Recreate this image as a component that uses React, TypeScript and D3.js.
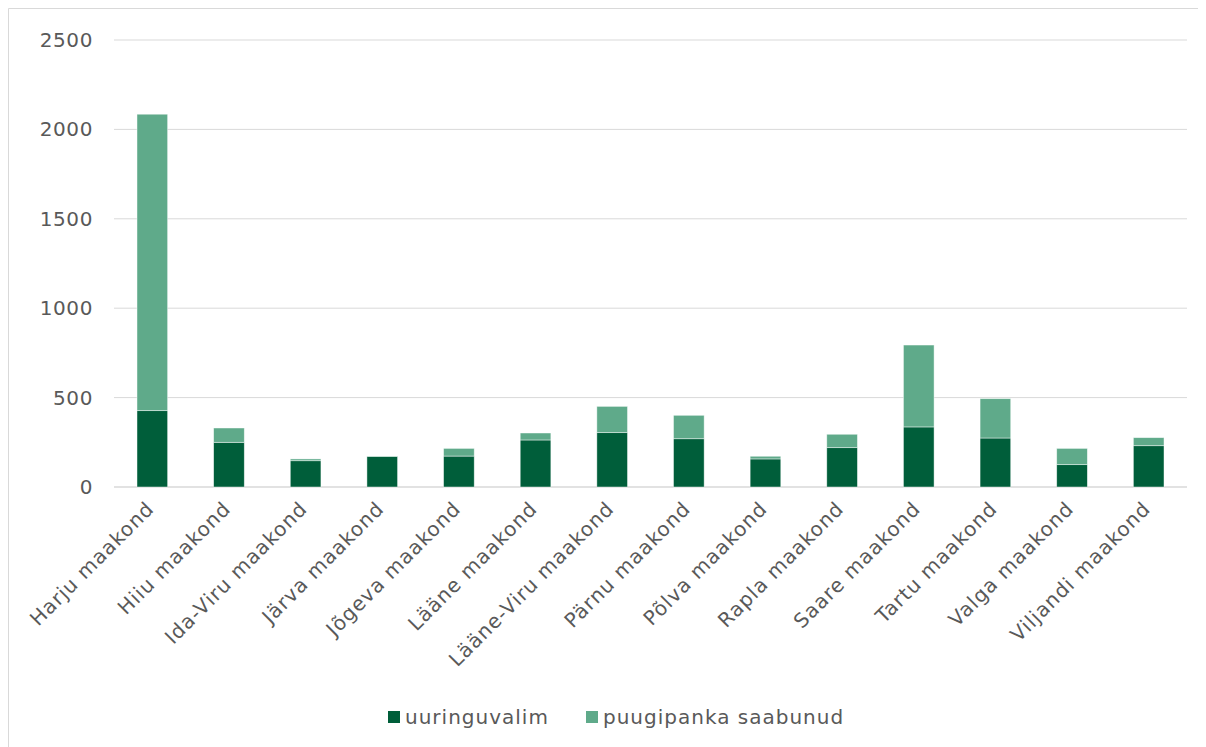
import React from "react";
import * as d3 from "d3";

const categories = [
  "Harju maakond", "Hiiu maakond", "Ida-Viru maakond", "Järva maakond",
  "Jõgeva maakond", "Lääne maakond", "Lääne-Viru maakond", "Pärnu maakond",
  "Põlva maakond", "Rapla maakond", "Saare maakond", "Tartu maakond",
  "Valga maakond", "Viljandi maakond",
];
const uuringuvalim = [427, 250, 147, 170, 173, 263, 304, 270, 157, 220, 336, 274, 125, 231];
const puugipanka = [1658, 80, 10, 3, 43, 39, 147, 131, 15, 75, 458, 220, 91, 45];
const yTicks = [0, 500, 1000, 1500, 2000, 2500];
const seriesNames = ["uuringuvalim", "puugipanka saabunud"];
const colors = ["#005E3A", "#5FAA8A"];

const W = 1198;
const H = 739;
const OX = 8; // svg offset in page
const FONT = "'DejaVu Sans', sans-serif";
const FS = 20;
const LS = 1;

export default function App() {
  const y = d3.scaleLinear().domain([0, 2500]).range([487 - OX, 40 - OX]);
  const band = (1187 - 114) / categories.length;
  const barW = band / 2.5;

  const stacked = categories.map((c, i) => {
    const a = uuringuvalim[i];
    const b = puugipanka[i];
    return { c, segs: [[0, a], [a, a + b]] };
  });

  const cx = (i: number) => 114 - OX + band * (i + 0.5);

  return (
    <svg width={W} height={H} style={{ display: "block" }} fontFamily={FONT}>
      <rect x={0} y={0} width={W} height={H} fill="#fff" />
      <line x1={0.5} y1={0.5} x2={W} y2={0.5} stroke="#D9D9D9" />
      <line x1={0.5} y1={0.5} x2={0.5} y2={H} stroke="#D9D9D9" />
      {yTicks.map((t) => (
        <g key={t}>
          <line x1={114 - OX} x2={1187 - OX} y1={y(t)} y2={y(t)} stroke="#D9D9D9" strokeWidth={t === 0 ? 1.5 : 1} />
          <text x={93 - OX} y={y(t)} dy="0.35em" textAnchor="end" fontSize={FS} letterSpacing={0.6} fill="#595959">{t}</text>
        </g>
      ))}
      {stacked.map((d, i) =>
        d.segs.map((s, j) => (
          <rect
            key={i + "-" + j}
            x={cx(i) - barW / 2}
            y={y(s[1])}
            width={barW}
            height={Math.max(0, y(s[0]) - y(s[1]))}
            fill={colors[j]}
            stroke="#fff"
            strokeOpacity={0.6}
            strokeWidth={0.75}
          />
        ))
      )}
      {categories.map((c, i) => (
        <text
          key={c}
          transform={`translate(${cx(i) - 2},${505 - OX}) rotate(-45)`}
          textAnchor="end"
          dy="0.35em"
          fontSize={FS}
          letterSpacing={LS}
          fill="#595959"
        >
          {c}
        </text>
      ))}
      <g>
        <rect x={388 - OX} y={711 - OX} width={12} height={12} fill={colors[0]} />
        <text x={405 - OX} y={717 - OX} dy="0.35em" fontSize={FS} letterSpacing={LS} fill="#595959">{seriesNames[0]}</text>
        <rect x={586 - OX} y={711 - OX} width={12} height={12} fill={colors[1]} />
        <text x={603 - OX} y={717 - OX} dy="0.35em" fontSize={FS} letterSpacing={LS} fill="#595959">{seriesNames[1]}</text>
      </g>
    </svg>
  );
}
